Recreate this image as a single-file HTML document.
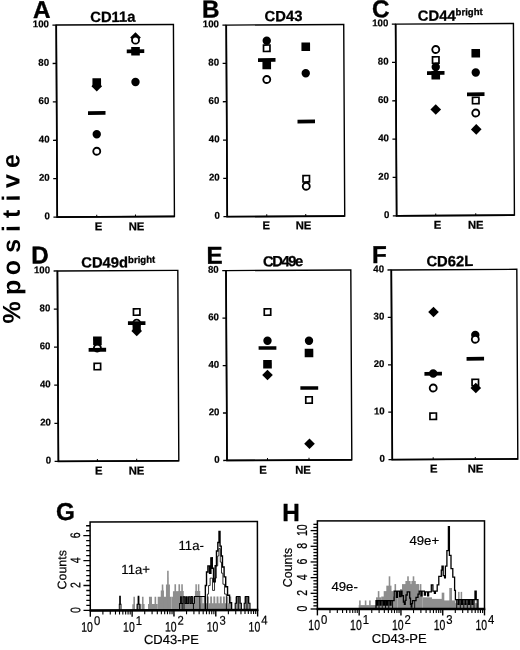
<!DOCTYPE html>
<html lang="en"><head><meta charset="utf-8"><title>Figure</title>
<style>html,body{margin:0;padding:0;background:#fff;}body{width:520px;height:650px;overflow:hidden;}svg{display:block;filter:blur(0.3px);}</style>
</head><body>
<svg width="520" height="650" viewBox="0 0 520 650" font-family='"Liberation Sans", Arial, Helvetica, sans-serif' fill="#000">
<rect width="520" height="650" fill="#fff"/>
<g transform="rotate(-0.3 260 325)">
<text transform="translate(20.31 321.74) rotate(-90)" font-size="25" font-weight="bold" x="-0.4 20 27.9 47.8 70.3 91 105 121.5 135.1 154.9">% positive</text>
<text x="34.61" y="16.82" font-size="24.3" font-weight="bold" stroke="#000" stroke-width="0.35">A</text>
<g>
<rect x="57.80" y="24.00" width="117.20" height="192.00" fill="none" stroke="#000" stroke-width="1.4"/>
<path d="M57.80 24.00V216.00H175.00" fill="none" stroke="#000" stroke-width="1.7"/>
<text x="91.79" y="21.12" font-size="14.8" font-weight="bold" stroke="#000" stroke-width="0.3">CD11a</text>
<line x1="54.00" y1="216.00" x2="57.80" y2="216.00" stroke="#000" stroke-width="1.3"/>
<text x="50.50" y="218.10" font-size="9.7" font-weight="bold" text-anchor="end" stroke="#000" stroke-width="0.2">0</text>
<line x1="54.00" y1="177.60" x2="57.80" y2="177.60" stroke="#000" stroke-width="1.3"/>
<text x="50.50" y="179.70" font-size="9.7" font-weight="bold" text-anchor="end" stroke="#000" stroke-width="0.2">20</text>
<line x1="54.00" y1="139.20" x2="57.80" y2="139.20" stroke="#000" stroke-width="1.3"/>
<text x="50.50" y="141.30" font-size="9.7" font-weight="bold" text-anchor="end" stroke="#000" stroke-width="0.2">40</text>
<line x1="54.00" y1="100.80" x2="57.80" y2="100.80" stroke="#000" stroke-width="1.3"/>
<text x="50.50" y="102.90" font-size="9.7" font-weight="bold" text-anchor="end" stroke="#000" stroke-width="0.2">60</text>
<line x1="54.00" y1="62.40" x2="57.80" y2="62.40" stroke="#000" stroke-width="1.3"/>
<text x="50.50" y="64.50" font-size="9.7" font-weight="bold" text-anchor="end" stroke="#000" stroke-width="0.2">80</text>
<line x1="54.00" y1="24.00" x2="57.80" y2="24.00" stroke="#000" stroke-width="1.3"/>
<text x="50.50" y="26.10" font-size="9.7" font-weight="bold" text-anchor="end" stroke="#000" stroke-width="0.2">100</text>
<line x1="97.32" y1="213.80" x2="97.32" y2="216.00" stroke="#000" stroke-width="1"/>
<line x1="136.07" y1="213.80" x2="136.07" y2="216.00" stroke="#000" stroke-width="1"/>
<text x="99.00" y="229.46" font-size="11.3" font-weight="bold" text-anchor="middle" stroke="#000" stroke-width="0.25">E</text>
<text x="137.00" y="229.65" font-size="11.3" font-weight="bold" text-anchor="middle" stroke="#000" stroke-width="0.25">NE</text>
<rect x="93.72" y="77.35" width="8.6" height="8.6" fill="#000"/>
<path d="M98.00 80.05L103.30 85.35L98.00 90.65L92.70 85.35Z" fill="#000"/>
<rect x="89.11" y="110.25" width="17.5" height="3.8" fill="#000"/>
<circle cx="97.75" cy="133.40" r="4.2" fill="#000"/>
<circle cx="97.66" cy="150.40" r="3.5" fill="#fff" stroke="#000" stroke-width="1.85"/>
<path d="M137.01 31.55L142.31 36.85L137.01 42.15L131.71 36.85Z" fill="#000"/>
<circle cx="136.99" cy="39.55" r="3.5" fill="#fff" stroke="#000" stroke-width="1.85"/>
<rect x="128.19" y="48.70" width="17.5" height="3.8" fill="#000"/>
<rect x="132.64" y="46.30" width="8.6" height="8.6" fill="#000"/>
<circle cx="136.77" cy="81.35" r="4.2" fill="#000"/>
</g>
<text x="203.51" y="17.20" font-size="24.3" font-weight="bold" stroke="#000" stroke-width="0.35">B</text>
<g>
<rect x="227.80" y="24.90" width="117.50" height="191.60" fill="none" stroke="#000" stroke-width="1.4"/>
<path d="M227.80 24.90V216.50H345.30" fill="none" stroke="#000" stroke-width="1.7"/>
<text x="266.19" y="21.23" font-size="14.8" font-weight="bold" stroke="#000" stroke-width="0.3">CD43</text>
<line x1="224.00" y1="216.50" x2="227.80" y2="216.50" stroke="#000" stroke-width="1.3"/>
<text x="220.50" y="218.60" font-size="9.7" font-weight="bold" text-anchor="end" stroke="#000" stroke-width="0.2">0</text>
<line x1="224.00" y1="178.18" x2="227.80" y2="178.18" stroke="#000" stroke-width="1.3"/>
<text x="220.50" y="180.28" font-size="9.7" font-weight="bold" text-anchor="end" stroke="#000" stroke-width="0.2">20</text>
<line x1="224.00" y1="139.86" x2="227.80" y2="139.86" stroke="#000" stroke-width="1.3"/>
<text x="220.50" y="141.96" font-size="9.7" font-weight="bold" text-anchor="end" stroke="#000" stroke-width="0.2">40</text>
<line x1="224.00" y1="101.54" x2="227.80" y2="101.54" stroke="#000" stroke-width="1.3"/>
<text x="220.50" y="103.64" font-size="9.7" font-weight="bold" text-anchor="end" stroke="#000" stroke-width="0.2">60</text>
<line x1="224.00" y1="63.22" x2="227.80" y2="63.22" stroke="#000" stroke-width="1.3"/>
<text x="220.50" y="65.32" font-size="9.7" font-weight="bold" text-anchor="end" stroke="#000" stroke-width="0.2">80</text>
<line x1="224.00" y1="24.90" x2="227.80" y2="24.90" stroke="#000" stroke-width="1.3"/>
<text x="220.50" y="27.00" font-size="9.7" font-weight="bold" text-anchor="end" stroke="#000" stroke-width="0.2">100</text>
<line x1="267.32" y1="214.30" x2="267.32" y2="216.50" stroke="#000" stroke-width="1"/>
<line x1="306.32" y1="214.30" x2="306.32" y2="216.50" stroke="#000" stroke-width="1"/>
<text x="266.80" y="229.33" font-size="11.3" font-weight="bold" text-anchor="middle" stroke="#000" stroke-width="0.25">E</text>
<text x="304.00" y="229.53" font-size="11.3" font-weight="bold" text-anchor="middle" stroke="#000" stroke-width="0.25">NE</text>
<circle cx="268.24" cy="40.79" r="4.2" fill="#000"/>
<rect x="264.97" y="45.06" width="6.45" height="6.45" fill="#fff" stroke="#000" stroke-width="1.7"/>
<rect x="259.39" y="58.14" width="17.5" height="3.8" fill="#000"/>
<rect x="263.81" y="60.74" width="8.6" height="8.6" fill="#000"/>
<circle cx="268.04" cy="79.54" r="3.5" fill="#fff" stroke="#000" stroke-width="1.85"/>
<rect x="302.91" y="42.69" width="8.6" height="8.6" fill="#000"/>
<circle cx="307.07" cy="73.49" r="4.2" fill="#000"/>
<rect x="298.56" y="119.84" width="17.5" height="3.8" fill="#000"/>
<circle cx="306.98" cy="186.49" r="3.5" fill="#fff" stroke="#000" stroke-width="1.85"/>
<rect x="303.79" y="175.77" width="6.45" height="6.45" fill="#fff" stroke="#000" stroke-width="1.7"/>
</g>
<text x="373.51" y="17.79" font-size="24.3" font-weight="bold" stroke="#000" stroke-width="0.35">C</text>
<g>
<rect x="397.20" y="24.80" width="117.80" height="191.70" fill="none" stroke="#000" stroke-width="1.4"/>
<path d="M397.20 24.80V216.50H515.00" fill="none" stroke="#000" stroke-width="1.7"/>
<text x="419.39" y="21.63" font-size="14.8" font-weight="bold" stroke="#000" stroke-width="0.3">CD44<tspan dy="-5.4" font-size="9.6">bright</tspan></text>
<line x1="393.40" y1="216.50" x2="397.20" y2="216.50" stroke="#000" stroke-width="1.3"/>
<text x="389.90" y="218.60" font-size="9.7" font-weight="bold" text-anchor="end" stroke="#000" stroke-width="0.2">0</text>
<line x1="393.40" y1="178.16" x2="397.20" y2="178.16" stroke="#000" stroke-width="1.3"/>
<text x="389.90" y="180.26" font-size="9.7" font-weight="bold" text-anchor="end" stroke="#000" stroke-width="0.2">20</text>
<line x1="393.40" y1="139.82" x2="397.20" y2="139.82" stroke="#000" stroke-width="1.3"/>
<text x="389.90" y="141.92" font-size="9.7" font-weight="bold" text-anchor="end" stroke="#000" stroke-width="0.2">40</text>
<line x1="393.40" y1="101.48" x2="397.20" y2="101.48" stroke="#000" stroke-width="1.3"/>
<text x="389.90" y="103.58" font-size="9.7" font-weight="bold" text-anchor="end" stroke="#000" stroke-width="0.2">60</text>
<line x1="393.40" y1="63.14" x2="397.20" y2="63.14" stroke="#000" stroke-width="1.3"/>
<text x="389.90" y="65.24" font-size="9.7" font-weight="bold" text-anchor="end" stroke="#000" stroke-width="0.2">80</text>
<line x1="393.40" y1="24.80" x2="397.20" y2="24.80" stroke="#000" stroke-width="1.3"/>
<text x="389.90" y="26.90" font-size="9.7" font-weight="bold" text-anchor="end" stroke="#000" stroke-width="0.2">100</text>
<line x1="436.32" y1="214.30" x2="436.32" y2="216.50" stroke="#000" stroke-width="1"/>
<line x1="476.32" y1="214.30" x2="476.32" y2="216.50" stroke="#000" stroke-width="1"/>
<text x="438.00" y="229.63" font-size="11.3" font-weight="bold" text-anchor="middle" stroke="#000" stroke-width="0.25">E</text>
<text x="476.25" y="229.83" font-size="11.3" font-weight="bold" text-anchor="middle" stroke="#000" stroke-width="0.25">NE</text>
<circle cx="437.19" cy="50.42" r="3.5" fill="#fff" stroke="#000" stroke-width="1.85"/>
<rect x="433.91" y="57.70" width="6.45" height="6.45" fill="#fff" stroke="#000" stroke-width="1.7"/>
<circle cx="437.10" cy="67.92" r="4.2" fill="#000"/>
<rect x="428.32" y="72.02" width="17.5" height="3.8" fill="#000"/>
<rect x="432.76" y="71.92" width="8.6" height="8.6" fill="#000"/>
<path d="M436.88 105.12L442.18 110.42L436.88 115.72L431.58 110.42Z" fill="#000"/>
<rect x="472.87" y="50.08" width="8.6" height="8.6" fill="#000"/>
<circle cx="477.07" cy="73.63" r="4.2" fill="#000"/>
<rect x="468.21" y="93.48" width="17.5" height="3.8" fill="#000"/>
<rect x="473.70" y="98.41" width="6.45" height="6.45" fill="#fff" stroke="#000" stroke-width="1.7"/>
<circle cx="476.86" cy="114.13" r="3.5" fill="#fff" stroke="#000" stroke-width="1.85"/>
<path d="M477.27 125.23L482.57 130.53L477.27 135.83L471.97 130.53Z" fill="#000"/>
</g>
<text x="31.63" y="262.30" font-size="24.3" font-weight="bold" stroke="#000" stroke-width="0.35">D</text>
<g>
<rect x="57.70" y="269.90" width="120.40" height="190.40" fill="none" stroke="#000" stroke-width="1.4"/>
<path d="M57.70 269.90V460.30H178.10" fill="none" stroke="#000" stroke-width="1.7"/>
<text x="81.50" y="266.66" font-size="14.8" font-weight="bold" stroke="#000" stroke-width="0.3">CD49d<tspan dy="-4.4" font-size="9.6">bright</tspan></text>
<line x1="53.90" y1="460.30" x2="57.70" y2="460.30" stroke="#000" stroke-width="1.3"/>
<text x="50.40" y="462.40" font-size="9.7" font-weight="bold" text-anchor="end" stroke="#000" stroke-width="0.2">0</text>
<line x1="53.90" y1="422.22" x2="57.70" y2="422.22" stroke="#000" stroke-width="1.3"/>
<text x="50.40" y="424.32" font-size="9.7" font-weight="bold" text-anchor="end" stroke="#000" stroke-width="0.2">20</text>
<line x1="53.90" y1="384.14" x2="57.70" y2="384.14" stroke="#000" stroke-width="1.3"/>
<text x="50.40" y="386.24" font-size="9.7" font-weight="bold" text-anchor="end" stroke="#000" stroke-width="0.2">40</text>
<line x1="53.90" y1="346.06" x2="57.70" y2="346.06" stroke="#000" stroke-width="1.3"/>
<text x="50.40" y="348.16" font-size="9.7" font-weight="bold" text-anchor="end" stroke="#000" stroke-width="0.2">60</text>
<line x1="53.90" y1="307.98" x2="57.70" y2="307.98" stroke="#000" stroke-width="1.3"/>
<text x="50.40" y="310.08" font-size="9.7" font-weight="bold" text-anchor="end" stroke="#000" stroke-width="0.2">80</text>
<line x1="53.90" y1="269.90" x2="57.70" y2="269.90" stroke="#000" stroke-width="1.3"/>
<text x="50.40" y="272.00" font-size="9.7" font-weight="bold" text-anchor="end" stroke="#000" stroke-width="0.2">100</text>
<line x1="96.69" y1="458.10" x2="96.69" y2="460.30" stroke="#000" stroke-width="1"/>
<line x1="135.99" y1="458.10" x2="135.99" y2="460.30" stroke="#000" stroke-width="1"/>
<text x="97.97" y="473.65" font-size="11.3" font-weight="bold" text-anchor="middle" stroke="#000" stroke-width="0.25">E</text>
<text x="135.72" y="473.85" font-size="11.3" font-weight="bold" text-anchor="middle" stroke="#000" stroke-width="0.25">NE</text>
<circle cx="97.28" cy="347.15" r="3.5" fill="#fff" stroke="#000" stroke-width="1.85"/>
<rect x="93.02" y="335.75" width="8.6" height="8.6" fill="#000"/>
<rect x="88.52" y="347.05" width="17.5" height="3.8" fill="#000"/>
<rect x="93.96" y="362.42" width="6.45" height="6.45" fill="#fff" stroke="#000" stroke-width="1.7"/>
<rect x="133.54" y="308.13" width="6.45" height="6.45" fill="#fff" stroke="#000" stroke-width="1.7"/>
<circle cx="136.71" cy="322.55" r="3.5" fill="#fff" stroke="#000" stroke-width="1.85"/>
<rect x="127.96" y="320.55" width="17.5" height="3.8" fill="#000"/>
<rect x="132.59" y="322.65" width="8.2" height="8.2" fill="#000"/>
<path d="M136.67 325.05L141.97 330.35L136.67 335.65L131.37 330.35Z" fill="#000"/>
</g>
<text x="206.72" y="263.42" font-size="24.3" font-weight="bold" stroke="#000" stroke-width="0.35">E</text>
<g>
<rect x="226.30" y="270.40" width="124.80" height="189.90" fill="none" stroke="#000" stroke-width="1.4"/>
<path d="M226.30 270.40V460.30H351.10" fill="none" stroke="#000" stroke-width="1.7"/>
<text x="263.31" y="266.42" font-size="14.8" font-weight="bold" stroke="#000" stroke-width="0.3" letter-spacing="-1.45">CD49e</text>
<line x1="222.50" y1="460.30" x2="226.30" y2="460.30" stroke="#000" stroke-width="1.3"/>
<text x="219.00" y="462.40" font-size="9.7" font-weight="bold" text-anchor="end" stroke="#000" stroke-width="0.2">0</text>
<line x1="222.50" y1="412.82" x2="226.30" y2="412.82" stroke="#000" stroke-width="1.3"/>
<text x="219.00" y="414.93" font-size="9.7" font-weight="bold" text-anchor="end" stroke="#000" stroke-width="0.2">20</text>
<line x1="222.50" y1="365.35" x2="226.30" y2="365.35" stroke="#000" stroke-width="1.3"/>
<text x="219.00" y="367.45" font-size="9.7" font-weight="bold" text-anchor="end" stroke="#000" stroke-width="0.2">40</text>
<line x1="222.50" y1="317.88" x2="226.30" y2="317.88" stroke="#000" stroke-width="1.3"/>
<text x="219.00" y="319.98" font-size="9.7" font-weight="bold" text-anchor="end" stroke="#000" stroke-width="0.2">60</text>
<line x1="222.50" y1="270.40" x2="226.30" y2="270.40" stroke="#000" stroke-width="1.3"/>
<text x="219.00" y="272.50" font-size="9.7" font-weight="bold" text-anchor="end" stroke="#000" stroke-width="0.2">80</text>
<line x1="266.79" y1="458.10" x2="266.79" y2="460.30" stroke="#000" stroke-width="1"/>
<line x1="308.29" y1="458.10" x2="308.29" y2="460.30" stroke="#000" stroke-width="1"/>
<text x="262.22" y="473.81" font-size="11.3" font-weight="bold" text-anchor="middle" stroke="#000" stroke-width="0.25">E</text>
<text x="302.22" y="474.02" font-size="11.3" font-weight="bold" text-anchor="middle" stroke="#000" stroke-width="0.25">NE</text>
<rect x="264.34" y="308.81" width="6.45" height="6.45" fill="#fff" stroke="#000" stroke-width="1.7"/>
<circle cx="267.42" cy="340.79" r="4.2" fill="#000"/>
<rect x="258.48" y="346.24" width="17.8" height="3.6" fill="#000"/>
<rect x="262.99" y="359.99" width="8.6" height="8.6" fill="#000"/>
<path d="M267.24 369.74L272.54 375.04L267.24 380.34L261.94 375.04Z" fill="#000"/>
<circle cx="308.92" cy="341.01" r="4.2" fill="#000"/>
<rect x="304.55" y="348.96" width="8.6" height="8.6" fill="#000"/>
<rect x="300.07" y="386.46" width="17.8" height="3.6" fill="#000"/>
<rect x="305.38" y="397.03" width="6.45" height="6.45" fill="#fff" stroke="#000" stroke-width="1.7"/>
<path d="M308.88 438.71L314.18 444.01L308.88 449.31L303.58 444.01Z" fill="#000"/>
</g>
<text x="372.22" y="263.49" font-size="24.3" font-weight="bold" stroke="#000" stroke-width="0.35">F</text>
<g>
<rect x="391.60" y="270.65" width="125.50" height="189.65" fill="none" stroke="#000" stroke-width="1.4"/>
<path d="M391.60 270.65V460.30H517.10" fill="none" stroke="#000" stroke-width="1.7"/>
<text x="426.71" y="267.17" font-size="14.8" font-weight="bold" stroke="#000" stroke-width="0.3">CD62L</text>
<line x1="387.80" y1="460.30" x2="391.60" y2="460.30" stroke="#000" stroke-width="1.3"/>
<text x="384.30" y="462.40" font-size="9.7" font-weight="bold" text-anchor="end" stroke="#000" stroke-width="0.2">0</text>
<line x1="387.80" y1="412.89" x2="391.60" y2="412.89" stroke="#000" stroke-width="1.3"/>
<text x="384.30" y="414.99" font-size="9.7" font-weight="bold" text-anchor="end" stroke="#000" stroke-width="0.2">10</text>
<line x1="387.80" y1="365.48" x2="391.60" y2="365.48" stroke="#000" stroke-width="1.3"/>
<text x="384.30" y="367.58" font-size="9.7" font-weight="bold" text-anchor="end" stroke="#000" stroke-width="0.2">20</text>
<line x1="387.80" y1="318.06" x2="391.60" y2="318.06" stroke="#000" stroke-width="1.3"/>
<text x="384.30" y="320.16" font-size="9.7" font-weight="bold" text-anchor="end" stroke="#000" stroke-width="0.2">30</text>
<line x1="387.80" y1="270.65" x2="391.60" y2="270.65" stroke="#000" stroke-width="1.3"/>
<text x="384.30" y="272.75" font-size="9.7" font-weight="bold" text-anchor="end" stroke="#000" stroke-width="0.2">40</text>
<line x1="432.49" y1="458.10" x2="432.49" y2="460.30" stroke="#000" stroke-width="1"/>
<line x1="474.59" y1="458.10" x2="474.59" y2="460.30" stroke="#000" stroke-width="1"/>
<text x="432.98" y="473.41" font-size="11.3" font-weight="bold" text-anchor="middle" stroke="#000" stroke-width="0.25">E</text>
<text x="474.72" y="473.63" font-size="11.3" font-weight="bold" text-anchor="middle" stroke="#000" stroke-width="0.25">NE</text>
<path d="M433.57 307.61L438.87 312.91L433.57 318.21L428.27 312.91Z" fill="#000"/>
<rect x="424.19" y="372.76" width="17.5" height="3.8" fill="#000"/>
<circle cx="432.94" cy="374.41" r="4.2" fill="#000"/>
<circle cx="432.87" cy="388.91" r="3.5" fill="#fff" stroke="#000" stroke-width="1.85"/>
<rect x="429.49" y="413.93" width="6.45" height="6.45" fill="#fff" stroke="#000" stroke-width="1.7"/>
<circle cx="475.24" cy="336.13" r="4.2" fill="#000"/>
<circle cx="475.22" cy="340.38" r="3.5" fill="#fff" stroke="#000" stroke-width="1.85"/>
<rect x="466.37" y="357.98" width="17.5" height="3.8" fill="#000"/>
<rect x="471.77" y="380.40" width="6.45" height="6.45" fill="#fff" stroke="#000" stroke-width="1.7"/>
<path d="M475.47 383.83L480.77 389.13L475.47 394.43L470.17 389.13Z" fill="#000"/>
</g>
</g>
<g transform="rotate(-0.14 90.30 610.40)">
<rect x="132.30" y="604.25" width="2.70" height="6.15" fill="#8e8e8e"/>
<rect x="133.40" y="596.87" width="1.60" height="13.53" fill="#8e8e8e"/>
<rect x="136.50" y="604.25" width="4.30" height="6.15" fill="#8e8e8e"/>
<rect x="137.70" y="596.87" width="1.60" height="13.53" fill="#8e8e8e"/>
<rect x="141.50" y="604.25" width="3.10" height="6.15" fill="#8e8e8e"/>
<rect x="142.00" y="596.87" width="1.60" height="13.53" fill="#8e8e8e"/>
<rect x="148.00" y="604.25" width="9.70" height="6.15" fill="#8e8e8e"/>
<rect x="149.00" y="596.87" width="3.00" height="13.53" fill="#8e8e8e"/>
<rect x="154.60" y="596.87" width="1.60" height="13.53" fill="#8e8e8e"/>
<rect x="157.70" y="596.87" width="13.80" height="13.53" fill="#8e8e8e"/>
<rect x="160.80" y="590.72" width="3.20" height="19.68" fill="#8e8e8e"/>
<rect x="161.80" y="584.57" width="1.60" height="25.83" fill="#8e8e8e"/>
<rect x="166.00" y="584.57" width="4.00" height="25.83" fill="#8e8e8e"/>
<rect x="167.20" y="571.04" width="1.60" height="39.36" fill="#8e8e8e"/>
<rect x="171.50" y="596.87" width="1.50" height="13.53" fill="#8e8e8e"/>
<rect x="173.00" y="591.33" width="10.80" height="19.07" fill="#8e8e8e"/>
<rect x="174.50" y="584.57" width="1.60" height="25.83" fill="#8e8e8e"/>
<rect x="178.50" y="584.57" width="1.60" height="25.83" fill="#8e8e8e"/>
<rect x="181.30" y="584.57" width="1.60" height="25.83" fill="#8e8e8e"/>
<rect x="183.80" y="596.87" width="11.20" height="13.53" fill="#8e8e8e"/>
<rect x="195.00" y="591.33" width="5.30" height="19.07" fill="#8e8e8e"/>
<rect x="195.45" y="584.57" width="1.50" height="25.83" fill="#8e8e8e"/>
<rect x="197.95" y="584.57" width="1.50" height="25.83" fill="#8e8e8e"/>
<rect x="200.30" y="603.63" width="31.10" height="6.77" fill="#8e8e8e"/>
<rect x="200.60" y="596.87" width="1.90" height="13.53" fill="#8e8e8e"/>
<rect x="203.80" y="596.87" width="1.90" height="13.53" fill="#8e8e8e"/>
<rect x="207.00" y="596.87" width="1.90" height="13.53" fill="#8e8e8e"/>
<rect x="210.20" y="596.87" width="1.90" height="13.53" fill="#8e8e8e"/>
<rect x="213.40" y="596.87" width="1.90" height="13.53" fill="#8e8e8e"/>
<rect x="216.60" y="596.87" width="1.90" height="13.53" fill="#8e8e8e"/>
<rect x="219.80" y="596.87" width="1.90" height="13.53" fill="#8e8e8e"/>
<rect x="223.00" y="596.87" width="1.90" height="13.53" fill="#8e8e8e"/>
<rect x="226.20" y="596.87" width="1.90" height="13.53" fill="#8e8e8e"/>
<rect x="229.40" y="596.87" width="1.90" height="13.53" fill="#8e8e8e"/>
<rect x="235.20" y="596.87" width="5.80" height="13.53" fill="#8e8e8e"/>
<rect x="244.40" y="596.87" width="5.20" height="13.53" fill="#8e8e8e"/>
<path d="M119.30 610.40V604.25H119.70V596.25H120.40V604.25H121.00V610.40" fill="none" stroke="#000" stroke-width="1"/>
<path d="M137.20 610.40V604.25H138.20V596.25H138.90V604.25H139.90V610.40" fill="none" stroke="#000" stroke-width="1"/>
<path d="M179.60 610.40V603.63H180.60V596.87H181.40V603.63H183.00V596.87H185.00V603.63H186.20V596.87H187.20V603.63H188.60V596.87H190.00V603.63H191.20V596.87H192.40V603.63H194.50V596.87H205.40V610.40" fill="none" stroke="#000" stroke-width="1"/>
<line x1="182.20" y1="610.40" x2="182.20" y2="603.63" stroke="#000" stroke-width="0.9"/>
<line x1="184.00" y1="610.40" x2="184.00" y2="596.87" stroke="#000" stroke-width="0.9"/>
<line x1="193.45" y1="610.40" x2="193.45" y2="603.63" stroke="#000" stroke-width="0.9"/>
<line x1="199.95" y1="610.40" x2="199.95" y2="596.87" stroke="#000" stroke-width="0.9"/>
<path d="M205.40 610.40V585.80H206.60V572.27H208.00V566.12H209.60V573.50H211.00V558.12H212.40V568.58H213.60V582.11H215.30V566.12H216.60V551.36H218.00V542.75H219.20V531.68H220.20V546.44H221.40V556.28H222.60V567.35H224.20V577.19H225.80V587.03H227.60V595.64H229.60V603.02H231.60V610.40" fill="none" stroke="#000" stroke-width="1.4"/>
<path d="M207.40 610.40V594.41H208.60V585.80H210.20V578.42H212.60V590.72H214.60V578.42H216.40V566.12H217.80V556.28H219.00V548.90H220.40V562.43H221.60V573.50H223.00V584.57H224.60V594.41H226.40V610.40" fill="none" stroke="#000" stroke-width="0.8"/>
<path d="M235.20 610.40V603.63H236.60V596.87H240.00V603.63H241.40V610.40" fill="none" stroke="#000" stroke-width="1.1"/>
<line x1="238.30" y1="610.40" x2="238.30" y2="596.87" stroke="#000" stroke-width="0.9"/>
<path d="M244.20 610.40V603.63H245.40V596.87H248.60V603.63H250.00V610.40" fill="none" stroke="#000" stroke-width="1.1"/>
<line x1="247.00" y1="610.40" x2="247.00" y2="596.87" stroke="#000" stroke-width="0.9"/>
<rect x="90.30" y="522.00" width="167.30" height="88.40" fill="none" stroke="#000" stroke-width="1.5"/>
<line x1="89.60" y1="610.40" x2="258.30" y2="610.40" stroke="#000" stroke-width="2.5"/>
<text x="56.20" y="519.90" font-size="24.3" font-weight="bold" stroke="#000" stroke-width="0.35">G</text>
<line x1="83.50" y1="610.40" x2="90.30" y2="610.40" stroke="#000" stroke-width="1.3"/>
<text transform="translate(80.30 610.00) rotate(-90) scale(0.77 1)" font-size="13.8" text-anchor="middle" stroke="#000" stroke-width="0.25">0</text>
<line x1="86.30" y1="605.42" x2="90.30" y2="605.42" stroke="#000" stroke-width="1.3"/>
<line x1="86.30" y1="600.44" x2="90.30" y2="600.44" stroke="#000" stroke-width="1.3"/>
<line x1="86.30" y1="595.46" x2="90.30" y2="595.46" stroke="#000" stroke-width="1.3"/>
<line x1="86.30" y1="590.48" x2="90.30" y2="590.48" stroke="#000" stroke-width="1.3"/>
<line x1="83.50" y1="585.50" x2="90.30" y2="585.50" stroke="#000" stroke-width="1.3"/>
<text transform="translate(80.30 585.10) rotate(-90) scale(0.77 1)" font-size="13.8" text-anchor="middle" stroke="#000" stroke-width="0.25">2</text>
<line x1="86.30" y1="580.52" x2="90.30" y2="580.52" stroke="#000" stroke-width="1.3"/>
<line x1="86.30" y1="575.54" x2="90.30" y2="575.54" stroke="#000" stroke-width="1.3"/>
<line x1="86.30" y1="570.56" x2="90.30" y2="570.56" stroke="#000" stroke-width="1.3"/>
<line x1="86.30" y1="565.58" x2="90.30" y2="565.58" stroke="#000" stroke-width="1.3"/>
<line x1="83.50" y1="560.60" x2="90.30" y2="560.60" stroke="#000" stroke-width="1.3"/>
<text transform="translate(80.30 560.20) rotate(-90) scale(0.77 1)" font-size="13.8" text-anchor="middle" stroke="#000" stroke-width="0.25">4</text>
<line x1="86.30" y1="555.62" x2="90.30" y2="555.62" stroke="#000" stroke-width="1.3"/>
<line x1="86.30" y1="550.64" x2="90.30" y2="550.64" stroke="#000" stroke-width="1.3"/>
<line x1="86.30" y1="545.66" x2="90.30" y2="545.66" stroke="#000" stroke-width="1.3"/>
<line x1="86.30" y1="540.68" x2="90.30" y2="540.68" stroke="#000" stroke-width="1.3"/>
<line x1="83.50" y1="535.70" x2="90.30" y2="535.70" stroke="#000" stroke-width="1.3"/>
<text transform="translate(80.30 535.30) rotate(-90) scale(0.77 1)" font-size="13.8" text-anchor="middle" stroke="#000" stroke-width="0.25">6</text>
<line x1="86.30" y1="530.72" x2="90.30" y2="530.72" stroke="#000" stroke-width="1.3"/>
<line x1="86.30" y1="525.74" x2="90.30" y2="525.74" stroke="#000" stroke-width="1.3"/>
<text transform="translate(66.30 569.70) rotate(-90)" font-size="12.4" text-anchor="middle" stroke="#000" stroke-width="0.2">Counts</text>
<line x1="90.30" y1="610.40" x2="90.30" y2="616.80" stroke="#000" stroke-width="1.4"/>
<line x1="102.89" y1="610.40" x2="102.89" y2="614.50" stroke="#000" stroke-width="1.1"/>
<line x1="110.26" y1="610.40" x2="110.26" y2="614.50" stroke="#000" stroke-width="1.1"/>
<line x1="115.48" y1="610.40" x2="115.48" y2="614.50" stroke="#000" stroke-width="1.1"/>
<line x1="119.53" y1="610.40" x2="119.53" y2="614.50" stroke="#000" stroke-width="1.1"/>
<line x1="122.85" y1="610.40" x2="122.85" y2="614.50" stroke="#000" stroke-width="1.1"/>
<line x1="125.65" y1="610.40" x2="125.65" y2="614.50" stroke="#000" stroke-width="1.1"/>
<line x1="128.07" y1="610.40" x2="128.07" y2="614.50" stroke="#000" stroke-width="1.1"/>
<line x1="130.21" y1="610.40" x2="130.21" y2="614.50" stroke="#000" stroke-width="1.1"/>
<line x1="132.12" y1="610.40" x2="132.12" y2="616.80" stroke="#000" stroke-width="1.4"/>
<line x1="144.72" y1="610.40" x2="144.72" y2="614.50" stroke="#000" stroke-width="1.1"/>
<line x1="152.08" y1="610.40" x2="152.08" y2="614.50" stroke="#000" stroke-width="1.1"/>
<line x1="157.31" y1="610.40" x2="157.31" y2="614.50" stroke="#000" stroke-width="1.1"/>
<line x1="161.36" y1="610.40" x2="161.36" y2="614.50" stroke="#000" stroke-width="1.1"/>
<line x1="164.67" y1="610.40" x2="164.67" y2="614.50" stroke="#000" stroke-width="1.1"/>
<line x1="167.47" y1="610.40" x2="167.47" y2="614.50" stroke="#000" stroke-width="1.1"/>
<line x1="169.90" y1="610.40" x2="169.90" y2="614.50" stroke="#000" stroke-width="1.1"/>
<line x1="172.04" y1="610.40" x2="172.04" y2="614.50" stroke="#000" stroke-width="1.1"/>
<line x1="173.95" y1="610.40" x2="173.95" y2="616.80" stroke="#000" stroke-width="1.4"/>
<line x1="186.54" y1="610.40" x2="186.54" y2="614.50" stroke="#000" stroke-width="1.1"/>
<line x1="193.91" y1="610.40" x2="193.91" y2="614.50" stroke="#000" stroke-width="1.1"/>
<line x1="199.13" y1="610.40" x2="199.13" y2="614.50" stroke="#000" stroke-width="1.1"/>
<line x1="203.18" y1="610.40" x2="203.18" y2="614.50" stroke="#000" stroke-width="1.1"/>
<line x1="206.50" y1="610.40" x2="206.50" y2="614.50" stroke="#000" stroke-width="1.1"/>
<line x1="209.30" y1="610.40" x2="209.30" y2="614.50" stroke="#000" stroke-width="1.1"/>
<line x1="211.72" y1="610.40" x2="211.72" y2="614.50" stroke="#000" stroke-width="1.1"/>
<line x1="213.86" y1="610.40" x2="213.86" y2="614.50" stroke="#000" stroke-width="1.1"/>
<line x1="215.78" y1="610.40" x2="215.78" y2="616.80" stroke="#000" stroke-width="1.4"/>
<line x1="228.37" y1="610.40" x2="228.37" y2="614.50" stroke="#000" stroke-width="1.1"/>
<line x1="235.73" y1="610.40" x2="235.73" y2="614.50" stroke="#000" stroke-width="1.1"/>
<line x1="240.96" y1="610.40" x2="240.96" y2="614.50" stroke="#000" stroke-width="1.1"/>
<line x1="245.01" y1="610.40" x2="245.01" y2="614.50" stroke="#000" stroke-width="1.1"/>
<line x1="248.32" y1="610.40" x2="248.32" y2="614.50" stroke="#000" stroke-width="1.1"/>
<line x1="251.12" y1="610.40" x2="251.12" y2="614.50" stroke="#000" stroke-width="1.1"/>
<line x1="253.55" y1="610.40" x2="253.55" y2="614.50" stroke="#000" stroke-width="1.1"/>
<line x1="255.69" y1="610.40" x2="255.69" y2="614.50" stroke="#000" stroke-width="1.1"/>
<line x1="257.60" y1="610.40" x2="257.60" y2="616.80" stroke="#000" stroke-width="1.4"/>
<text transform="translate(92.90 631.80) scale(0.76 1)" font-size="13.8" text-anchor="end" stroke="#000" stroke-width="0.25">10</text>
<text transform="translate(93.90 625.00) scale(0.9 1)" font-size="12.6" stroke="#000" stroke-width="0.2">0</text>
<text transform="translate(134.72 631.80) scale(0.76 1)" font-size="13.8" text-anchor="end" stroke="#000" stroke-width="0.25">10</text>
<text transform="translate(135.72 625.00) scale(0.9 1)" font-size="12.6" stroke="#000" stroke-width="0.2">1</text>
<text transform="translate(176.55 631.80) scale(0.76 1)" font-size="13.8" text-anchor="end" stroke="#000" stroke-width="0.25">10</text>
<text transform="translate(177.55 625.00) scale(0.9 1)" font-size="12.6" stroke="#000" stroke-width="0.2">2</text>
<text transform="translate(218.38 631.80) scale(0.76 1)" font-size="13.8" text-anchor="end" stroke="#000" stroke-width="0.25">10</text>
<text transform="translate(219.38 625.00) scale(0.9 1)" font-size="12.6" stroke="#000" stroke-width="0.2">3</text>
<text transform="translate(260.20 631.80) scale(0.76 1)" font-size="13.8" text-anchor="end" stroke="#000" stroke-width="0.25">10</text>
<text transform="translate(261.20 625.00) scale(0.9 1)" font-size="12.6" stroke="#000" stroke-width="0.2">4</text>
<text x="143.90" y="644.20" font-size="13.0" stroke="#000" stroke-width="0.2">CD43-PE</text>
<text x="121.40" y="574.00" font-size="13.2" stroke="#000" stroke-width="0.2">11a+</text>
<text x="178.60" y="550.20" font-size="13.2" stroke="#000" stroke-width="0.2">11a-</text>
</g>
<g transform="rotate(0.0 317.40 609.00)">
<rect x="358.70" y="605.11" width="17.30" height="3.89" fill="#8e8e8e"/>
<rect x="359.10" y="600.44" width="1.60" height="8.56" fill="#8e8e8e"/>
<rect x="364.80" y="600.44" width="1.60" height="8.56" fill="#8e8e8e"/>
<rect x="369.10" y="600.44" width="1.60" height="8.56" fill="#8e8e8e"/>
<rect x="376.00" y="597.33" width="5.20" height="11.67" fill="#8e8e8e"/>
<rect x="377.80" y="591.11" width="1.60" height="17.89" fill="#8e8e8e"/>
<rect x="381.20" y="596.55" width="12.90" height="12.45" fill="#8e8e8e"/>
<rect x="383.70" y="591.11" width="9.60" height="17.89" fill="#8e8e8e"/>
<rect x="386.30" y="585.66" width="5.20" height="23.34" fill="#8e8e8e"/>
<rect x="388.70" y="576.32" width="1.60" height="32.68" fill="#8e8e8e"/>
<rect x="394.10" y="591.11" width="3.50" height="17.89" fill="#8e8e8e"/>
<rect x="394.50" y="584.10" width="1.60" height="24.90" fill="#8e8e8e"/>
<rect x="397.60" y="591.11" width="25.10" height="17.89" fill="#8e8e8e"/>
<rect x="402.00" y="584.10" width="17.20" height="24.90" fill="#8e8e8e"/>
<rect x="405.40" y="580.99" width="5.20" height="28.01" fill="#8e8e8e"/>
<rect x="407.20" y="576.32" width="1.60" height="32.68" fill="#8e8e8e"/>
<rect x="411.40" y="580.99" width="4.40" height="28.01" fill="#8e8e8e"/>
<rect x="412.70" y="576.32" width="1.60" height="32.68" fill="#8e8e8e"/>
<rect x="417.00" y="584.10" width="1.60" height="24.90" fill="#8e8e8e"/>
<rect x="419.80" y="584.10" width="1.60" height="24.90" fill="#8e8e8e"/>
<rect x="400.00" y="589.16" width="2.00" height="19.84" fill="#8e8e8e"/>
<rect x="422.70" y="597.33" width="9.30" height="11.67" fill="#8e8e8e"/>
<rect x="432.00" y="598.89" width="10.00" height="10.11" fill="#8e8e8e"/>
<rect x="442.00" y="600.44" width="13.00" height="8.56" fill="#8e8e8e"/>
<rect x="455.00" y="603.16" width="22.50" height="5.83" fill="#8e8e8e"/>
<rect x="441.70" y="592.66" width="2.60" height="16.34" fill="#8e8e8e"/>
<rect x="449.30" y="587.99" width="2.70" height="21.01" fill="#8e8e8e"/>
<rect x="458.05" y="591.88" width="1.50" height="17.12" fill="#8e8e8e"/>
<rect x="460.65" y="591.88" width="1.50" height="17.12" fill="#8e8e8e"/>
<rect x="455.50" y="600.05" width="1.70" height="8.95" fill="#8e8e8e"/>
<rect x="458.50" y="600.05" width="1.70" height="8.95" fill="#8e8e8e"/>
<rect x="461.50" y="600.05" width="1.70" height="8.95" fill="#8e8e8e"/>
<rect x="464.50" y="600.05" width="1.70" height="8.95" fill="#8e8e8e"/>
<rect x="467.50" y="600.05" width="1.70" height="8.95" fill="#8e8e8e"/>
<rect x="470.50" y="600.05" width="1.70" height="8.95" fill="#8e8e8e"/>
<rect x="473.50" y="600.05" width="1.70" height="8.95" fill="#8e8e8e"/>
<path d="M376.00 609.00V600.68H377.00V605.11H378.00V600.68H380.00V605.11H381.00V600.68H383.40V605.11H384.40V600.68H386.60V605.11H387.60V600.68H390.00V605.11H391.00V600.68H394.10V591.11H396.40V597.33H397.40V591.11H399.60V596.55H401.00V591.11H402.00V595.77H403.40V602.00H404.40V604.33H405.20V600.44H406.00V595.00H407.20V591.88H409.70V598.11H410.50V604.33H411.20V607.05H411.80V603.55H412.50V600.68H413.40V600.68H416.00V597.33H418.00V594.22H419.20V591.11H421.00V595.77H422.00V591.11H424.40V595.00H425.40V591.88H427.60V595.77H428.60V591.88H431.30V584.88H432.90V591.11H434.40V593.44H435.40V591.11H437.20V584.88H438.80V576.32H441.30V570.10H442.00V566.21H443.20V575.55H444.60V577.88H445.40V566.21H446.90V550.65H448.40V526.53H449.40V555.32H451.00V568.54H452.80V577.10H454.60V590.33H455.40V599.66H458.00V604.33H459.00V599.66H461.60V604.33H462.60V599.66H465.00V604.33H466.00V599.66H468.60V604.33H469.60V599.66H472.00V604.33H473.00V599.66H475.00V591.11H476.20V599.66H478.00V609.00" fill="none" stroke="#000" stroke-width="1.3"/>
<line x1="379.00" y1="609.00" x2="379.00" y2="600.68" stroke="#000" stroke-width="0.9"/>
<line x1="382.20" y1="609.00" x2="382.20" y2="600.68" stroke="#000" stroke-width="0.9"/>
<line x1="385.50" y1="609.00" x2="385.50" y2="600.68" stroke="#000" stroke-width="0.9"/>
<line x1="388.80" y1="609.00" x2="388.80" y2="600.68" stroke="#000" stroke-width="0.9"/>
<line x1="392.55" y1="609.00" x2="392.55" y2="600.68" stroke="#000" stroke-width="0.9"/>
<line x1="414.70" y1="609.00" x2="414.70" y2="600.68" stroke="#000" stroke-width="0.9"/>
<line x1="456.70" y1="609.00" x2="456.70" y2="599.66" stroke="#000" stroke-width="0.9"/>
<line x1="460.30" y1="609.00" x2="460.30" y2="599.66" stroke="#000" stroke-width="0.9"/>
<line x1="463.80" y1="609.00" x2="463.80" y2="599.66" stroke="#000" stroke-width="0.9"/>
<line x1="467.30" y1="609.00" x2="467.30" y2="599.66" stroke="#000" stroke-width="0.9"/>
<line x1="470.80" y1="609.00" x2="470.80" y2="599.66" stroke="#000" stroke-width="0.9"/>
<line x1="474.00" y1="609.00" x2="474.00" y2="599.66" stroke="#000" stroke-width="0.9"/>
<line x1="477.10" y1="609.00" x2="477.10" y2="599.66" stroke="#000" stroke-width="0.9"/>
<rect x="317.40" y="520.90" width="167.10" height="88.10" fill="none" stroke="#000" stroke-width="1.5"/>
<line x1="316.70" y1="609.00" x2="485.20" y2="609.00" stroke="#000" stroke-width="2.5"/>
<text x="282.30" y="520.60" font-size="24.3" font-weight="bold" stroke="#000" stroke-width="0.35">H</text>
<line x1="310.60" y1="609.00" x2="317.40" y2="609.00" stroke="#000" stroke-width="1.3"/>
<text transform="translate(307.40 608.60) rotate(-90) scale(0.77 1)" font-size="13.8" text-anchor="middle" stroke="#000" stroke-width="0.25">0</text>
<line x1="313.40" y1="605.86" x2="317.40" y2="605.86" stroke="#000" stroke-width="1.3"/>
<line x1="313.40" y1="602.73" x2="317.40" y2="602.73" stroke="#000" stroke-width="1.3"/>
<line x1="313.40" y1="599.59" x2="317.40" y2="599.59" stroke="#000" stroke-width="1.3"/>
<line x1="313.40" y1="596.46" x2="317.40" y2="596.46" stroke="#000" stroke-width="1.3"/>
<line x1="310.60" y1="593.32" x2="317.40" y2="593.32" stroke="#000" stroke-width="1.3"/>
<text transform="translate(307.40 592.92) rotate(-90) scale(0.77 1)" font-size="13.8" text-anchor="middle" stroke="#000" stroke-width="0.25">2</text>
<line x1="313.40" y1="590.18" x2="317.40" y2="590.18" stroke="#000" stroke-width="1.3"/>
<line x1="313.40" y1="587.05" x2="317.40" y2="587.05" stroke="#000" stroke-width="1.3"/>
<line x1="313.40" y1="583.91" x2="317.40" y2="583.91" stroke="#000" stroke-width="1.3"/>
<line x1="313.40" y1="580.78" x2="317.40" y2="580.78" stroke="#000" stroke-width="1.3"/>
<line x1="310.60" y1="577.64" x2="317.40" y2="577.64" stroke="#000" stroke-width="1.3"/>
<text transform="translate(307.40 577.24) rotate(-90) scale(0.77 1)" font-size="13.8" text-anchor="middle" stroke="#000" stroke-width="0.25">4</text>
<line x1="313.40" y1="574.50" x2="317.40" y2="574.50" stroke="#000" stroke-width="1.3"/>
<line x1="313.40" y1="571.37" x2="317.40" y2="571.37" stroke="#000" stroke-width="1.3"/>
<line x1="313.40" y1="568.23" x2="317.40" y2="568.23" stroke="#000" stroke-width="1.3"/>
<line x1="313.40" y1="565.10" x2="317.40" y2="565.10" stroke="#000" stroke-width="1.3"/>
<line x1="310.60" y1="561.96" x2="317.40" y2="561.96" stroke="#000" stroke-width="1.3"/>
<text transform="translate(307.40 561.56) rotate(-90) scale(0.77 1)" font-size="13.8" text-anchor="middle" stroke="#000" stroke-width="0.25">6</text>
<line x1="313.40" y1="558.82" x2="317.40" y2="558.82" stroke="#000" stroke-width="1.3"/>
<line x1="313.40" y1="555.69" x2="317.40" y2="555.69" stroke="#000" stroke-width="1.3"/>
<line x1="313.40" y1="552.55" x2="317.40" y2="552.55" stroke="#000" stroke-width="1.3"/>
<line x1="313.40" y1="549.42" x2="317.40" y2="549.42" stroke="#000" stroke-width="1.3"/>
<line x1="310.60" y1="546.28" x2="317.40" y2="546.28" stroke="#000" stroke-width="1.3"/>
<text transform="translate(307.40 545.88) rotate(-90) scale(0.77 1)" font-size="13.8" text-anchor="middle" stroke="#000" stroke-width="0.25">8</text>
<line x1="313.40" y1="543.14" x2="317.40" y2="543.14" stroke="#000" stroke-width="1.3"/>
<line x1="313.40" y1="540.01" x2="317.40" y2="540.01" stroke="#000" stroke-width="1.3"/>
<line x1="313.40" y1="536.87" x2="317.40" y2="536.87" stroke="#000" stroke-width="1.3"/>
<line x1="313.40" y1="533.74" x2="317.40" y2="533.74" stroke="#000" stroke-width="1.3"/>
<line x1="310.60" y1="530.60" x2="317.40" y2="530.60" stroke="#000" stroke-width="1.3"/>
<text transform="translate(307.40 530.20) rotate(-90) scale(0.77 1)" font-size="13.8" text-anchor="middle" stroke="#000" stroke-width="0.25">10</text>
<line x1="313.40" y1="527.46" x2="317.40" y2="527.46" stroke="#000" stroke-width="1.3"/>
<line x1="313.40" y1="524.33" x2="317.40" y2="524.33" stroke="#000" stroke-width="1.3"/>
<text transform="translate(292.30 567.50) rotate(-90)" font-size="12.4" text-anchor="middle" stroke="#000" stroke-width="0.2">Counts</text>
<line x1="317.40" y1="609.00" x2="317.40" y2="615.40" stroke="#000" stroke-width="1.4"/>
<line x1="329.98" y1="609.00" x2="329.98" y2="613.10" stroke="#000" stroke-width="1.1"/>
<line x1="337.33" y1="609.00" x2="337.33" y2="613.10" stroke="#000" stroke-width="1.1"/>
<line x1="342.55" y1="609.00" x2="342.55" y2="613.10" stroke="#000" stroke-width="1.1"/>
<line x1="346.60" y1="609.00" x2="346.60" y2="613.10" stroke="#000" stroke-width="1.1"/>
<line x1="349.91" y1="609.00" x2="349.91" y2="613.10" stroke="#000" stroke-width="1.1"/>
<line x1="352.70" y1="609.00" x2="352.70" y2="613.10" stroke="#000" stroke-width="1.1"/>
<line x1="355.13" y1="609.00" x2="355.13" y2="613.10" stroke="#000" stroke-width="1.1"/>
<line x1="357.26" y1="609.00" x2="357.26" y2="613.10" stroke="#000" stroke-width="1.1"/>
<line x1="359.17" y1="609.00" x2="359.17" y2="615.40" stroke="#000" stroke-width="1.4"/>
<line x1="371.75" y1="609.00" x2="371.75" y2="613.10" stroke="#000" stroke-width="1.1"/>
<line x1="379.11" y1="609.00" x2="379.11" y2="613.10" stroke="#000" stroke-width="1.1"/>
<line x1="384.33" y1="609.00" x2="384.33" y2="613.10" stroke="#000" stroke-width="1.1"/>
<line x1="388.37" y1="609.00" x2="388.37" y2="613.10" stroke="#000" stroke-width="1.1"/>
<line x1="391.68" y1="609.00" x2="391.68" y2="613.10" stroke="#000" stroke-width="1.1"/>
<line x1="394.48" y1="609.00" x2="394.48" y2="613.10" stroke="#000" stroke-width="1.1"/>
<line x1="396.90" y1="609.00" x2="396.90" y2="613.10" stroke="#000" stroke-width="1.1"/>
<line x1="399.04" y1="609.00" x2="399.04" y2="613.10" stroke="#000" stroke-width="1.1"/>
<line x1="400.95" y1="609.00" x2="400.95" y2="615.40" stroke="#000" stroke-width="1.4"/>
<line x1="413.53" y1="609.00" x2="413.53" y2="613.10" stroke="#000" stroke-width="1.1"/>
<line x1="420.88" y1="609.00" x2="420.88" y2="613.10" stroke="#000" stroke-width="1.1"/>
<line x1="426.10" y1="609.00" x2="426.10" y2="613.10" stroke="#000" stroke-width="1.1"/>
<line x1="430.15" y1="609.00" x2="430.15" y2="613.10" stroke="#000" stroke-width="1.1"/>
<line x1="433.46" y1="609.00" x2="433.46" y2="613.10" stroke="#000" stroke-width="1.1"/>
<line x1="436.25" y1="609.00" x2="436.25" y2="613.10" stroke="#000" stroke-width="1.1"/>
<line x1="438.68" y1="609.00" x2="438.68" y2="613.10" stroke="#000" stroke-width="1.1"/>
<line x1="440.81" y1="609.00" x2="440.81" y2="613.10" stroke="#000" stroke-width="1.1"/>
<line x1="442.73" y1="609.00" x2="442.73" y2="615.40" stroke="#000" stroke-width="1.4"/>
<line x1="455.30" y1="609.00" x2="455.30" y2="613.10" stroke="#000" stroke-width="1.1"/>
<line x1="462.66" y1="609.00" x2="462.66" y2="613.10" stroke="#000" stroke-width="1.1"/>
<line x1="467.88" y1="609.00" x2="467.88" y2="613.10" stroke="#000" stroke-width="1.1"/>
<line x1="471.92" y1="609.00" x2="471.92" y2="613.10" stroke="#000" stroke-width="1.1"/>
<line x1="475.23" y1="609.00" x2="475.23" y2="613.10" stroke="#000" stroke-width="1.1"/>
<line x1="478.03" y1="609.00" x2="478.03" y2="613.10" stroke="#000" stroke-width="1.1"/>
<line x1="480.45" y1="609.00" x2="480.45" y2="613.10" stroke="#000" stroke-width="1.1"/>
<line x1="482.59" y1="609.00" x2="482.59" y2="613.10" stroke="#000" stroke-width="1.1"/>
<line x1="484.50" y1="609.00" x2="484.50" y2="615.40" stroke="#000" stroke-width="1.4"/>
<text transform="translate(320.00 630.40) scale(0.76 1)" font-size="13.8" text-anchor="end" stroke="#000" stroke-width="0.25">10</text>
<text transform="translate(321.00 623.60) scale(0.9 1)" font-size="12.6" stroke="#000" stroke-width="0.2">0</text>
<text transform="translate(361.77 630.40) scale(0.76 1)" font-size="13.8" text-anchor="end" stroke="#000" stroke-width="0.25">10</text>
<text transform="translate(362.77 623.60) scale(0.9 1)" font-size="12.6" stroke="#000" stroke-width="0.2">1</text>
<text transform="translate(403.55 630.40) scale(0.76 1)" font-size="13.8" text-anchor="end" stroke="#000" stroke-width="0.25">10</text>
<text transform="translate(404.55 623.60) scale(0.9 1)" font-size="12.6" stroke="#000" stroke-width="0.2">2</text>
<text transform="translate(445.33 630.40) scale(0.76 1)" font-size="13.8" text-anchor="end" stroke="#000" stroke-width="0.25">10</text>
<text transform="translate(446.33 623.60) scale(0.9 1)" font-size="12.6" stroke="#000" stroke-width="0.2">3</text>
<text transform="translate(487.10 630.40) scale(0.76 1)" font-size="13.8" text-anchor="end" stroke="#000" stroke-width="0.25">10</text>
<text transform="translate(488.10 623.60) scale(0.9 1)" font-size="12.6" stroke="#000" stroke-width="0.2">4</text>
<text x="371.80" y="643.40" font-size="13.0" stroke="#000" stroke-width="0.2">CD43-PE</text>
<text x="331.40" y="590.50" font-size="13.2" stroke="#000" stroke-width="0.2">49e-</text>
<text x="409.40" y="545.00" font-size="13.2" stroke="#000" stroke-width="0.2">49e+</text>
</g>
</svg>
</body></html>
